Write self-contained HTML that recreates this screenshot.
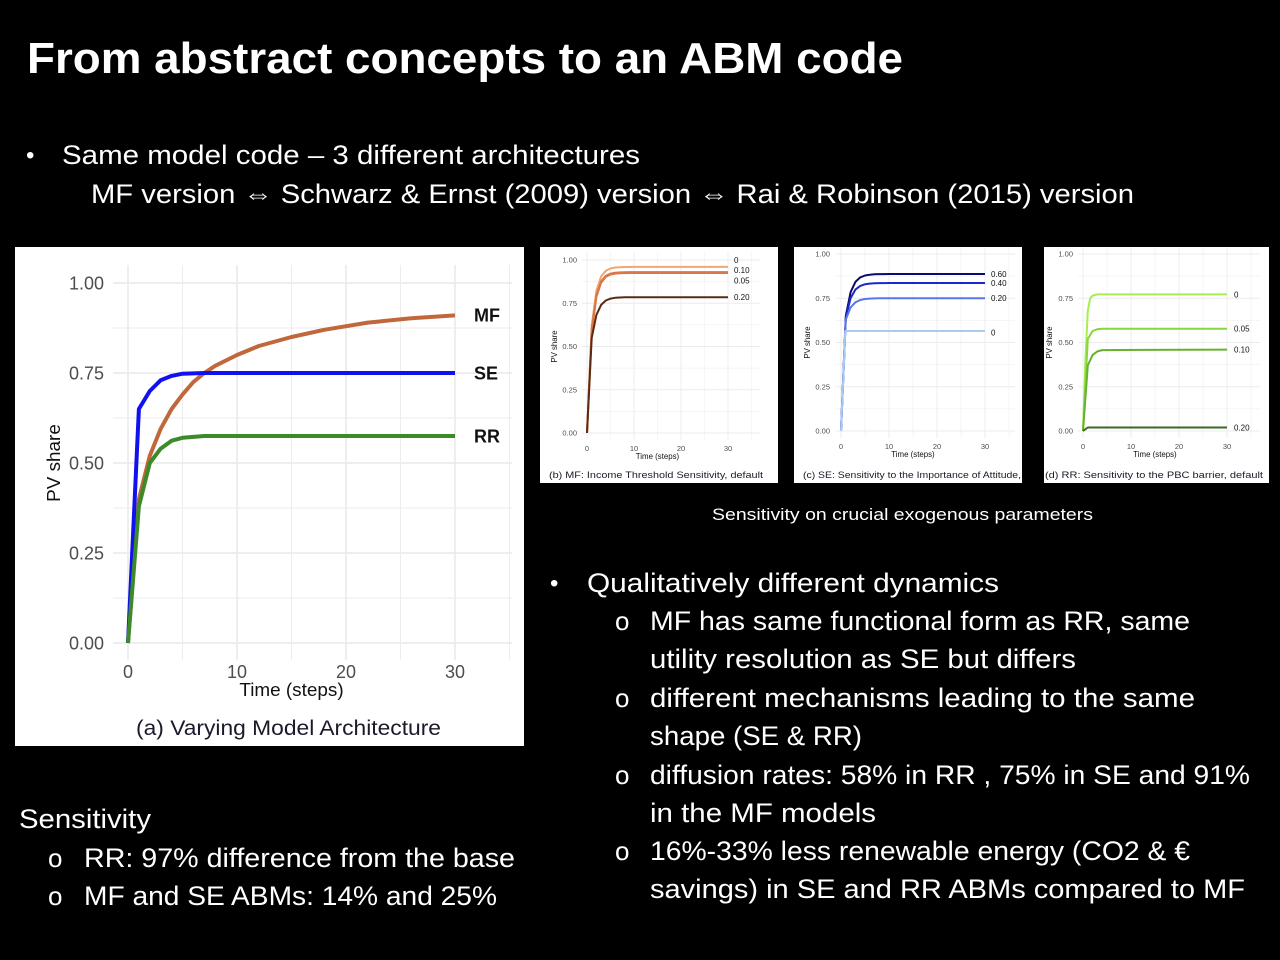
<!DOCTYPE html>
<html><head><meta charset="utf-8"><style>
html,body{margin:0;padding:0;background:#000;}
svg{display:block}
.w{fill:#fff;font-family:"Liberation Sans",sans-serif}
.t{fill:#4d4d4d;font-family:"Liberation Sans",sans-serif}
</style></head><body>
<svg id="s" width="1280" height="960" viewBox="0 0 1280 960" xmlns="http://www.w3.org/2000/svg">
<rect width="1280" height="960" fill="#000"/>
<text class="w" x="27" y="73" font-size="44" font-weight="bold" textLength="876" lengthAdjust="spacingAndGlyphs">From abstract concepts to an ABM code</text>
<text class="w" x="26" y="163" font-size="24">•</text>
<text class="w" x="62" y="164" font-size="27" textLength="578" lengthAdjust="spacingAndGlyphs">Same model code – 3 different architectures</text>
<text class="w" x="91" y="203" font-size="27" textLength="1043" lengthAdjust="spacingAndGlyphs">MF version ⇔  Schwarz &amp; Ernst (2009) version ⇔  Rai &amp; Robinson (2015) version</text>

<rect x="15" y="247" width="509" height="499" fill="#fff"/>
<rect x="540" y="247" width="238" height="236" fill="#fff"/>
<rect x="794" y="247" width="228" height="236" fill="#fff"/>
<rect x="1044" y="247" width="225" height="236" fill="#fff"/>
<g id="charts"></g>

<text class="w" x="712" y="520" font-size="17" textLength="381" lengthAdjust="spacingAndGlyphs">Sensitivity on  crucial exogenous  parameters</text>

<text class="w" x="550" y="591" font-size="24">•</text>
<text class="w" x="587" y="592" font-size="27" textLength="412" lengthAdjust="spacingAndGlyphs">Qualitatively different dynamics</text>
<g class="w" font-size="27">
<text x="615" y="630" font-size="26">o</text>
<text x="650" y="630" textLength="540" lengthAdjust="spacingAndGlyphs">MF has same functional form as RR, same</text>
<text x="650" y="668" textLength="426" lengthAdjust="spacingAndGlyphs">utility resolution as SE but differs</text>
<text x="615" y="707" font-size="26">o</text>
<text x="650" y="707" textLength="545" lengthAdjust="spacingAndGlyphs">different mechanisms leading to the same</text>
<text x="650" y="745" textLength="212" lengthAdjust="spacingAndGlyphs">shape (SE  &amp; RR)</text>
<text x="615" y="784" font-size="26">o</text>
<text x="650" y="784" textLength="600" lengthAdjust="spacingAndGlyphs">diffusion rates: 58% in RR , 75% in SE  and 91%</text>
<text x="650" y="822" textLength="226" lengthAdjust="spacingAndGlyphs">in the MF models</text>
<text x="615" y="860" font-size="26">o</text>
<text x="650" y="860" textLength="540" lengthAdjust="spacingAndGlyphs">16%-33% less renewable energy (CO2 &amp; €</text>
<text x="650" y="898" textLength="595" lengthAdjust="spacingAndGlyphs">savings)  in SE  and RR ABMs  compared to MF</text>
<text x="19" y="828" textLength="132" lengthAdjust="spacingAndGlyphs">Sensitivity</text>
<text x="48" y="867" font-size="26">o</text>
<text x="84" y="867" textLength="431" lengthAdjust="spacingAndGlyphs">RR: 97% difference from the base</text>
<text x="48" y="905" font-size="26">o</text>
<text x="84" y="905" textLength="413" lengthAdjust="spacingAndGlyphs">MF and  SE ABMs: 14% and 25%</text>
</g>
</svg>
<script>
var NS="http://www.w3.org/2000/svg",G=document.getElementById("charts");
function el(n,a,t){var e=document.createElementNS(NS,n);for(var k in a)e.setAttribute(k,a[k]);if(t!=null)e.textContent=t;G.appendChild(e);return e;}
function chart(c){
 var X=function(t){return c.x0+(c.x30-c.x0)*t/30},Y=function(v){return c.y0-(c.y0-c.y1)*v};
 var L=c.pl,R=c.pr,T=c.pt,B=c.pb;
 for(var v=0;v<=1.0001;v+=0.125){el("line",{x1:L,x2:R,y1:Y(v),y2:Y(v),stroke:"#ebebeb","stroke-width":(Math.round(v*8)%2?0.6:1.1)*c.s});}
 for(var t=0;t<=35;t+=5){if(X(t)>R)break;el("line",{x1:X(t),x2:X(t),y1:T,y2:B,stroke:"#ebebeb","stroke-width":(t%10?0.6:1.1)*c.s});}
 ["0.00","0.25","0.50","0.75","1.00"].forEach(function(s,i){el("text",{class:"t",x:c.yl,y:Y(i*0.25)+c.fs*0.35,"font-size":c.fs,"text-anchor":"end"},s)});
 [0,10,20,30].forEach(function(t){el("text",{class:"t",x:X(t),y:c.xly,"font-size":c.fs,"text-anchor":"middle"},t)});
 el("text",{x:(X(0)+X(30))/2,y:c.xty,"font-size":c.fs*1.05,"text-anchor":"middle",fill:"#111","font-family":"Liberation Sans,sans-serif"},"Time (steps)");
 el("text",{x:c.ytx,y:(Y(0)+Y(1))/2,"font-size":c.fs*1.05,"text-anchor":"middle",fill:"#111","font-family":"Liberation Sans,sans-serif",transform:"rotate(-90 "+c.ytx+" "+(Y(0)+Y(1))/2+")"},"PV share");
 c.series.forEach(function(s){var d="";s.p.forEach(function(p,i){d+=(i?"L":"M")+X(p[0]).toFixed(1)+" "+Y(p[1]).toFixed(1)});
  el("path",{d:d,fill:"none",stroke:s.c,"stroke-width":c.lw,"stroke-linejoin":"round"});
  el("text",{x:c.labx,y:Y(s.ly!=null?s.ly:s.p[s.p.length-1][1])+c.lfs*0.35,"font-size":c.lfs,fill:"#111","font-family":"Liberation Sans,sans-serif","font-weight":c.lbw||"normal"},s.l)});
 el("text",{x:c.capx,y:c.capy,"font-size":c.capfs,fill:"#1a1a2a","font-family":"Liberation Sans,sans-serif",textLength:c.capw,lengthAdjust:"spacingAndGlyphs"},c.cap);
}
function sat(lv,j,k){var p=[[0,0],[1,j]];for(var t=2;t<=10;t++)p.push([t,lv-(lv-j)*Math.exp(-(t-1)/k)]);p.push([30,lv]);return p;}
chart({x0:128,x30:455,y0:643,y1:283,pl:113,pr:512,pt:265,pb:660,s:1.5,fs:18,yl:104,xly:678,xty:696,ytx:60,lw:4,lfs:18,lbw:"bold",labx:474,
 capx:136,capy:735,capfs:21,capw:305,cap:"(a) Varying Model Architecture",
 series:[
 {c:"#c0683c",l:"MF",p:[[0,0],[1,0.40],[2,0.52],[3,0.595],[4,0.65],[5,0.69],[6,0.725],[7,0.75],[8,0.77],[10,0.80],[12,0.825],[15,0.85],[18,0.87],[22,0.89],[26,0.902],[30,0.91]]},
 {c:"#1010f0",l:"SE",p:[[0,0],[1,0.65],[2,0.70],[3,0.73],[4,0.742],[5,0.748],[7,0.75],[30,0.75]]},
 {c:"#3c8a28",l:"RR",p:[[0,0],[1,0.38],[2,0.50],[3,0.54],[4,0.562],[5,0.57],[7,0.575],[30,0.575]]}]});
chart({x0:587,x30:728,y0:433,y1:260,pl:582,pr:760,pt:252,pb:440,s:0.8,fs:7.5,yl:577,xly:451,xty:459,ytx:557,lw:2,lfs:8,labx:734,
 capx:549,capy:478,capfs:9,capw:214,cap:"(b)  MF:  Income  Threshold  Sensitivity,  default",
 series:[
 {c:"#f0a870",l:"0",ly:1.0,p:sat(0.96,0.62,1.1)},
 {c:"#d87848",l:"0.10",ly:0.94,p:sat(0.93,0.60,1.1)},
 {c:"#d87848",l:"0.05",ly:0.88,p:sat(0.925,0.58,1.1)},
 {c:"#5a2a12",l:"0.20",p:sat(0.785,0.55,1.2)}]});
chart({x0:841,x30:985,y0:431,y1:254,pl:836,pr:1015,pt:248,pb:438,s:0.8,fs:7.5,yl:830,xly:449,xty:457,ytx:810,lw:2,lfs:8,labx:991,
 capx:803,capy:478,capfs:9,capw:218,cap:"(c) SE: Sensitivity to the Importance of Attitude,",
 series:[
 {c:"#0a0a70",l:"0.60",p:sat(0.887,0.65,1.2)},
 {c:"#1a28c8",l:"0.40",p:sat(0.836,0.64,1.2)},
 {c:"#5878e8",l:"0.20",p:sat(0.75,0.63,1.2)},
 {c:"#a8ccf0",l:"0",ly:0.555,p:[[0,0],[0.9,0.565],[30,0.565]]}]});
chart({x0:1083,x30:1227,y0:431,y1:254,pl:1078,pr:1260,pt:248,pb:438,s:0.8,fs:7.5,yl:1073,xly:449,xty:457,ytx:1052,lw:2,lfs:8,labx:1234,
 capx:1045,capy:478,capfs:9,capw:218,cap:"(d)  RR:  Sensitivity  to  the  PBC  barrier,  default",
 series:[
 {c:"#a8ee50",l:"0",ly:0.77,p:[[0,0],[0.5,0.4],[1,0.68],[1.5,0.75],[2,0.765],[3,0.772],[30,0.772]]},
 {c:"#88d640",l:"0.05",p:[[0,0],[1,0.52],[2,0.565],[3,0.575],[4,0.578],[30,0.578]]},
 {c:"#68b030",l:"0.10",p:[[0,0],[1,0.37],[2,0.43],[3,0.45],[4,0.457],[30,0.46]]},
 {c:"#3a6a20",l:"0.20",p:[[0,0],[1,0.02],[30,0.02]]}]});
</script>
</body></html>
